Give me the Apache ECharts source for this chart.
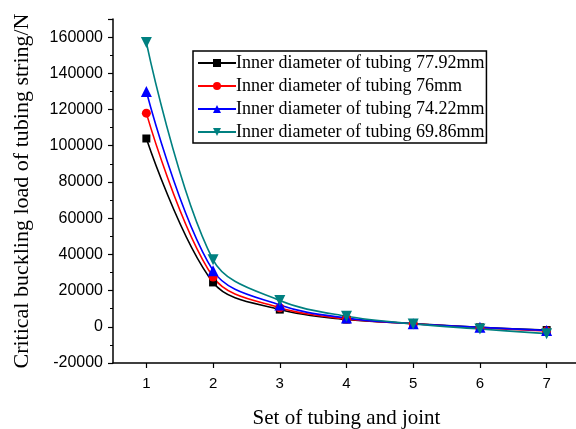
<!DOCTYPE html>
<html>
<head>
<meta charset="utf-8">
<script src="https://cdn.jsdelivr.net/npm/echarts@6/dist/echarts.min.js"></script>
<style>
  html, body { margin: 0; padding: 0; background: #fff; }
  #chart { width: 576px; height: 429px; }
</style>
</head>
<body>
<div id="chart"></div>
<script>
// Set number of tubing-and-joint assembly
const sets = [1, 2, 3, 4, 5, 6, 7];

// Critical buckling load (N) for each tubing inner diameter
const load7792 = [104000, 24500, 9500, 4000, 1800, -300, -1800];
const load76   = [118000, 27500, 10500, 4300, 1700, -600, -2300];
const load7422 = [130000, 31000, 12000, 4800, 1700, -300, -2000];
const load6986 = [157000, 37000, 14500, 5800, 1600, -1200, -3800];

const seriesNames = [
  'Inner diameter of tubing 77.92mm',
  'Inner diameter of tubing 76mm',
  'Inner diameter of tubing 74.22mm',
  'Inner diameter of tubing 69.86mm'
];

const serif = '"Liberation Serif", "Times New Roman", serif';
const sans = '"Liberation Sans", Arial, sans-serif';

function pairs(vals) {
  return sets.map((x, i) => [x, vals[i]]);
}

function makeSeries(name, vals, color, symbol, size) {
  return {
    name: name,
    type: 'line',
    data: pairs(vals),
    smooth: 0.35,
    symbol: symbol,
    symbolSize: size,
    showAllSymbol: true,
    lineStyle: { color: color, width: 1.6 },
    itemStyle: { color: color },
    emphasis: { disabled: true },
    z: 2
  };
}

const chart = echarts.init(document.getElementById('chart'), null, { renderer: 'canvas' });

chart.setOption({
  animation: false,
  backgroundColor: '#fff',
  // the x axis runs slightly past the right edge of the canvas
  grid: { left: 113, width: 467, top: 19, bottom: 66, containLabel: false, outerBoundsMode: 'none' },
  legend: {
    orient: 'vertical',
    left: 193,
    top: 51,
    padding: [3, 2, 2, 4],
    itemGap: 5,
    itemWidth: 38,
    itemHeight: 10,
    borderColor: '#000',
    borderWidth: 1.5,
    textStyle: { fontFamily: serif, fontSize: 18, color: '#000', padding: [0, 0, 0, -5] },
    data: seriesNames
  },
  xAxis: {
    type: 'value',
    min: 0.5,
    max: 7.5,
    interval: 1,
    name: 'Set of tubing and joint',
    nameLocation: 'middle',
    nameGap: 45,
    nameTextStyle: { fontFamily: serif, fontSize: 21, color: '#000' },
    axisLine: { show: true, onZero: false, lineStyle: { color: '#000', width: 1.5 } },
    axisTick: { show: true, length: 5, lineStyle: { color: '#000', width: 1.2 }, customValues: sets },
    minorTick: { show: true, splitNumber: 2, length: 3, lineStyle: { color: '#000', width: 1 } },
    axisLabel: {
      fontFamily: sans, fontSize: 15, color: '#000', margin: 13,
      customValues: sets,
      formatter: v => String(v)
    },
    splitLine: { show: false }
  },
  yAxis: {
    type: 'value',
    min: -20000,
    max: 170000,
    interval: 20000,
    name: 'Critical buckling load of tubing string/N',
    nameLocation: 'middle',
    nameGap: 80,
    nameTextStyle: { fontFamily: serif, fontSize: 22, color: '#000' },
    axisLine: { show: true, onZero: false, lineStyle: { color: '#000', width: 1.5 } },
    axisTick: { show: true, length: 5, lineStyle: { color: '#000', width: 1.2 } },
    minorTick: { show: true, splitNumber: 2, length: 3, lineStyle: { color: '#000', width: 1 } },
    axisLabel: {
      fontFamily: sans, fontSize: 16, color: '#000', margin: 10,
      formatter: v => (v > 160000 ? '' : String(v))
    },
    splitLine: { show: false }
  },
  series: [
    makeSeries(seriesNames[0], load7792, '#000000', 'rect', 8),
    makeSeries(seriesNames[1], load76, '#ff0000', 'circle', 9),
    makeSeries(seriesNames[2], load7422, '#0000ff', 'triangle', 11),
    makeSeries(seriesNames[3], load6986, '#008080', 'path://M0,0 L10,0 L5,9 Z', 11)
  ]
});
</script>
</body>
</html>
